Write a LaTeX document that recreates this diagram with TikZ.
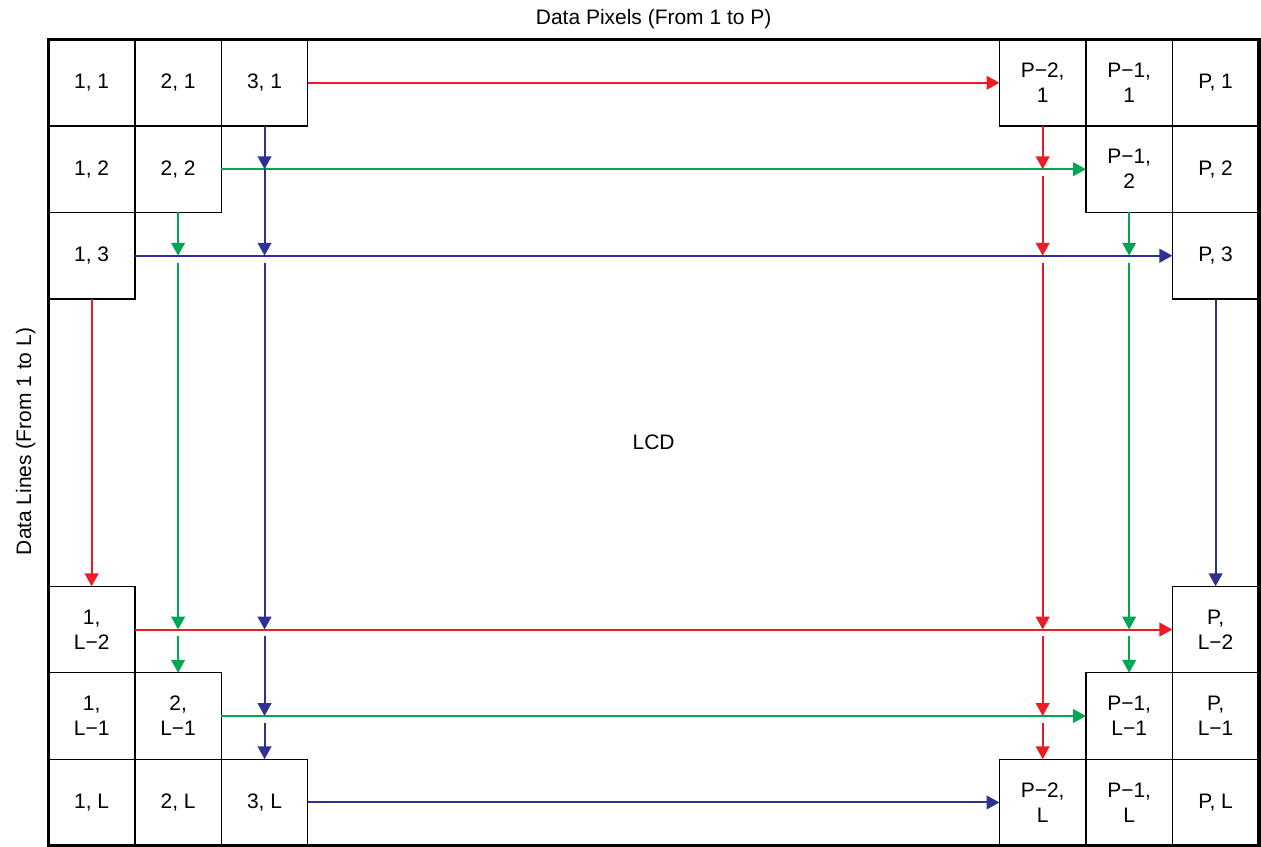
\documentclass[tikz,border=0pt]{standalone}
\usepackage{fontspec}
\setmainfont{Liberation Sans}
\usetikzlibrary{positioning, arrows.meta}

\definecolor{lcdred}{RGB}{237,28,36}
\definecolor{lcdgreen}{RGB}{0,166,81}
\definecolor{lcdblue}{RGB}{46,49,146}

\begin{document}
\begin{tikzpicture}[>={Triangle[length=8.5pt, width=9pt]}, node distance=0pt,
    cell/.style={draw, line width=0.9pt, minimum size=2cm, inner sep=0pt, outer sep=0pt,
        align=center, font=\fontsize{13.8}{16.4}\selectfont},
    label/.style={font=\fontsize{13.8}{16.4}\selectfont, anchor=base},
    redline/.style={->, lcdred, line width=1.3pt},
    greenline/.style={->, lcdgreen, line width=1.3pt},
    blueline/.style={->, lcdblue, line width=1.3pt},
    resume/.style={shorten <=0.16cm}]
    \useasboundingbox (-1.12, -0.03) rectangle (28.05, 19.563);

    % Nodes top left
    \node[cell] (l1t1) at (1, 17.648) {1, 1};
    \node[cell, right=of l1t1] (l2t1) {2, 1};
    \node[cell, right=of l2t1] (l3t1) {3, 1};
    \node[cell, below=of l1t1] (l1t2) {1, 2};
    \node[cell, right=of l1t2] (l2t2) {2, 2};
    \node[cell, below=of l1t2] (l1t3) {1, 3};

    % Nodes top right
    \node[cell] (r1t1) at (27, 17.648) {P, 1};
    \node[cell, left=of r1t1] (r2t1) {P−1,\\1};
    \node[cell, left=of r2t1] (r3t1) {P−2,\\1};
    \node[cell, below=of r1t1] (r1t2) {P, 2};
    \node[cell, left=of r1t2] (r2t2) {P−1,\\2};
    \node[cell, below=of r1t2] (r1t3) {P, 3};

    % Nodes bottom left
    \node[cell] (l1b1) at (1, 1) {1, L};
    \node[cell, right=of l1b1] (l2b1) {2, L};
    \node[cell, right=of l2b1] (l3b1) {3, L};
    \node[cell, above=of l1b1] (l1b2) {1,\\L−1};
    \node[cell, right=of l1b2] (l2b2) {2,\\L−1};
    \node[cell, above=of l1b2] (l1b3) {1,\\L−2};

    % Nodes bottom right
    \node[cell] (r1b1) at (27, 1) {P, L};
    \node[cell, left=of r1b1] (r2b1) {P−1,\\L};
    \node[cell, left=of r2b1] (r3b1) {P−2,\\L};
    \node[cell, above=of r1b1] (r1b2) {P,\\L−1};
    \node[cell, left=of r1b2] (r2b2) {P−1,\\L−1};
    \node[cell, above=of r1b2] (r1b3) {P,\\L−2};

    % Labels
    \node[label] (pixels) at (14, 18.99) {Data Pixels (From 1 to P)};
    \node[label, rotate=90] (lines) at (-0.40, 9.35) {Data Lines (From 1 to L)};
    \node[label] (lcd) at (14, 9.17) {LCD};

    % Rows
    \draw[redline] (l3t1) -- (r3t1);
    \draw[greenline] (l2t2) -- (r2t2);
    \draw[blueline] (l1t3) -- (r1t3);
    \draw[redline] (l1b3) -- (r1b3);
    \draw[greenline] (l2b2) -- (r2b2);
    \draw[blueline] (l3b1) -- (r3b1);

    % Columns left
    \draw[redline] (l1t3) -- (l1b3);
    \draw[greenline] (l2t2) -- (l2t2 |- l1t3);
    \draw[greenline, resume] (l2t2 |- l1t3) -- (l2t2 |- l1b3);
    \draw[greenline, resume] (l2t2 |- l1b3) -- (l2b2);
    \draw[blueline] (l3t1) -- (l3t1 |- l2t2);
    \draw[blueline] (l3t1 |- l2t2) -- (l3t1 |- l1t3);
    \draw[blueline, resume] (l3t1 |- l1t3) -- (l3t1 |- l1b3);
    \draw[blueline, resume] (l3t1 |- l1b3) -- (l3t1 |- l2b2);
    \draw[blueline, resume] (l3t1 |- l2b2) -- (l3b1);

    % Columns right
    \draw[redline] (r3t1) -- (r3t1 |- r2t2);
    \draw[redline, resume] (r3t1 |- r2t2) -- (r3t1 |- r1t3);
    \draw[redline, resume] (r3t1 |- r1t3) -- (r3t1 |- r1b3);
    \draw[redline, resume] (r3t1 |- r1b3) -- (r3t1 |- r2b2);
    \draw[redline, resume] (r3t1 |- r2b2) -- (r3b1);
    \draw[greenline] (r2t2) -- (r2t2 |- r1t3);
    \draw[greenline, resume] (r2t2 |- r1t3) -- (r2t2 |- r1b3);
    \draw[greenline, resume] (r2t2 |- r1b3) -- (r2b2);
    \draw[blueline] (r1t3) -- (r1b3);

    % Frame
    \draw[line width=2.2pt] (l1b1.south west) rectangle (r1t1.north east);
\end{tikzpicture}
\end{document}
